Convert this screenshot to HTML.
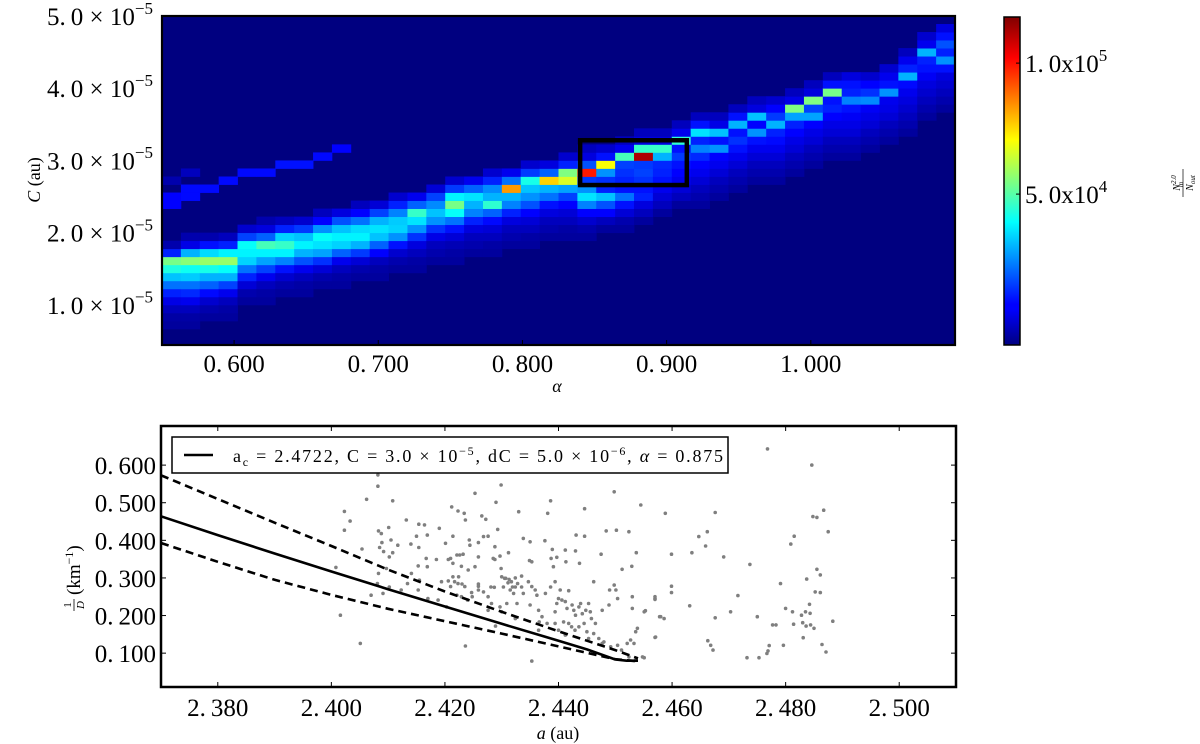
<!DOCTYPE html>
<html><head><meta charset="utf-8"><style>
html,body{margin:0;padding:0;background:#fff;}
svg{display:block;font-family:"Liberation Serif","DejaVu Serif",serif;}
</style></head><body>
<svg id="chart" width="1200" height="744" viewBox="0 0 1200 744" xmlns="http://www.w3.org/2000/svg">
<defs>
<linearGradient id="jetGrad" x1="0" y1="1" x2="0" y2="0">
<stop offset="0" stop-color="#000080"/><stop offset="0.11" stop-color="#0000ff"/><stop offset="0.125" stop-color="#0000ff"/><stop offset="0.375" stop-color="#00ffff"/><stop offset="0.625" stop-color="#ffff00"/><stop offset="0.875" stop-color="#ff0000"/><stop offset="1" stop-color="#800000"/>
</linearGradient>
</defs>
<g id="heat"></g>
<g id="cbar"></g>
<g id="scatter"></g>
</svg>
<script>
// ---------- heatmap data (values in units of 1e4) ----------
const alphaRange = [0.55, 1.10];
const cRange = [0.446, 5.0]; // units of 1e-5
const nCols = 42;
const nRows = 41;
const vmin = -0.76, vmax = 11.76;
const alphaTicks = [0.6, 0.7, 0.8, 0.9, 1.0];
const alphaTickLabels = ["0.\u2009600", "0.\u2009700", "0.\u2009800", "0.\u2009900", "1.\u2009000"];
const cTicks = [1, 2, 3, 4, 5];
const cTickLabels = ["1.\u20090", "2.\u20090", "3.\u20090", "4.\u20090", "5.\u20090"];
const cbarTicks = [5, 10];
const cbarTickLabels = [["5.\u20090x10", "4"], ["1.\u20090x10", "5"]];
const colStart = [2,2,3,3,5,5,6,6,7,7,8,8,9,9,10,10,11,11,12,12,13,13,13,14,14,15,16,17,17,18,19,20,20,21,22,23,23,24,25,26,28,29];
const colVals = [
[-0.4,-0.3,0,0.5,1.2,2.2,3.2,4.3,5.4,1.2,-0.2],
[-0.4,-0.3,0,0.6,1.3,2.2,3.3,4.1,5.6,3,0.5,-0.2],
[-0.4,-0.2,0.2,0.9,2,3,4.2,5.8,3.5,1,-0.2],
[-0.4,-0.3,0,0.6,1.6,3,4,5.8,3.8,1.2,0],
[-0.4,-0.2,0.3,1.2,2.2,3.4,3.8,4,1.6,0.2],
[-0.4,-0.3,0,0.6,1.6,2.8,3.8,4.8,2,0.4,-0.2],
[-0.4,-0.2,0.2,1,2.4,3.8,4.6,3.4,1.2,0],
[-0.4,-0.3,0,0.6,1.8,3,3.8,3.2,1.5,0.2],
[-0.4,-0.2,0.3,1.4,2.8,3.6,4,2.6,0.8,0],
[-0.4,-0.3,0,0.6,2,3.4,3.8,3.2,1.8,0.4],
[-0.4,-0.2,0.3,1.5,3,3.8,3.5,2.2,0.8,0],
[-0.4,-0.3,0,0.8,2,3.2,3.6,3,1.6,0.3],
[-0.4,-0.2,0.2,1,2.6,3.4,3.3,2.4,1.2,0.2],
[-0.4,-0.3,0,0.4,1.4,2.6,3.6,4.6,2,0.6],
[-0.4,-0.2,0,0.5,1.4,2.6,3.2,2.5,1.6,0.3],
[-0.4,-0.3,-0.1,0.3,1,2.2,4,5.4,3.8,1.5,0.2],
[-0.4,-0.2,0,0.4,1.2,2.4,3,3.6,2,0.6],
[-0.4,-0.3,0,0.3,0.9,2,4.5,3,2.5,1.2,0.2],
[-0.4,-0.2,0,0.4,1.2,2.4,3,8.3,2.2,0.6],
[-0.4,-0.3,0,0.3,0.8,1.8,2.6,3.2,4.2,1.5,0.2],
[-0.4,-0.2,0,0.4,1,2.2,3,7.6,2,0.4],
[-0.4,-0.3,0,0.3,0.8,1.6,2.8,6.6,5.5,1.2,0.2],
[-0.4,-0.2,0.2,0.8,2.4,3.6,2.6,1.5,9.9,1.8,0.4,0],
[-0.4,0,0.8,1.8,3.2,1.2,1.4,2.6,7,1,0.2],
[-0.4,-0.2,0.3,1,2.2,1,1.2,1.4,1.6,4.8,0.6,0],
[-0.4,0,0.4,1.2,1,1.4,1.6,1.5,11.2,4.6,0.4,0],
[-0.4,0,0.3,0.6,1,1.2,1.3,3,4.6,0.4,0],
[-0.4,0,0.3,0.6,0.8,1,1.5,1,4.5,0.6,0],
[-0.4,-0.2,0,0.3,0.6,0.8,1.3,2.4,1.2,3.6,1,0],
[-0.4,-0.2,0,0.3,0.6,0.8,2.6,1,3.2,0.5,0],
[-0.4,-0.2,0,0.3,0.6,1,1.4,1,3,1,0],
[-0.4,-0.2,0,0.3,0.6,1,2.6,0.8,3.2,0.4,0],
[-0.4,-0.2,0,0.3,0.6,0.9,1.2,3,1.5,0.8,0.2],
[-0.4,-0.2,0,0.3,0.5,0.8,1.2,2.8,5.5,0.5,0],
[-0.4,-0.2,0,0.3,0.5,0.8,2.8,1.6,5.5,0.4,0],
[-0.4,-0.2,0,0.3,0.5,0.8,1.2,1,5.4,1,0],
[-0.4,-0.2,0,0.3,0.5,0.7,1,2.4,1.2,1,0.4],
[-0.4,-0.2,0,0.3,0.5,0.7,2.5,1.4,0.8,0.2],
[-0.4,-0.2,0,0.3,0.5,0.6,2.6,1,0.6,0.2],
[-0.4,-0.2,0,0.2,0.4,0.6,0.9,3,1.2,0.6,0],
[-0.4,-0.2,0,0.2,0.4,0.7,1,1.2,3,0.6,0.2],
[-0.4,-0.2,0,0.2,0.4,1,2.6,1.2,1.8,1,0.4]
];
const minorCols = [0,0,0,1,1,1,2,3,4,5,6,7,8,9];
const minorRows = [17,18,20,18,19,21,19,20,21,21,22,22,23,24];
const minorVals = [0.8,0.8,-0.2,0.9,0.9,0.0,0.9,0.9,0.9,0.9,1.0,1.0,0.9,0.8];
const boxAlpha = [0.840, 0.914];
const boxC = [2.66, 3.28];

// ---------- scatter data ----------
const aRange = [2.37, 2.51];
const invDRange = [0.01, 0.704];
const aTicks = [2.38, 2.40, 2.42, 2.44, 2.46, 2.48, 2.50];
const aTickLabels = ["2.\u2009380","2.\u2009400","2.\u2009420","2.\u2009440","2.\u2009460","2.\u2009480","2.\u2009500"];
const dTicks = [0.1,0.2,0.3,0.4,0.5,0.6];
const dTickLabels = ["0.\u2009100","0.\u2009200","0.\u2009300","0.\u2009400","0.\u2009500","0.\u2009600"];
const solidA = [2.37,2.38,2.39,2.40,2.41,2.42,2.43,2.44,2.445,2.450,2.452,2.454];
const solidV = [0.464,0.414,0.365,0.317,0.270,0.224,0.178,0.133,0.110,0.083,0.080,0.080];
const upperA = [2.37,2.38,2.39,2.40,2.41,2.42,2.43,2.44,2.45,2.454];
const upperV = [0.573,0.510,0.447,0.385,0.322,0.264,0.210,0.158,0.108,0.086];
const lowerA = [2.37,2.38,2.39,2.40,2.41,2.42,2.43,2.44,2.45,2.454];
const lowerV = [0.393,0.343,0.295,0.255,0.218,0.185,0.152,0.118,0.084,0.078];
const ptA = [2.4082,2.4082,2.4062,2.4108,2.4023,2.4033,2.4023,2.4054,2.4008,2.4016,2.4051,2.4083,2.4088,2.4089,2.4085,2.4092,2.4101,2.4105,2.4117,2.4108,2.4102,2.4097,2.4083,2.4081,2.4070,2.4132,2.4154,2.4164,2.4150,2.4169,2.4140,2.4154,2.4167,2.4153,2.4169,2.4185,2.4190,2.4201,2.4212,2.4223,2.4234,2.4236,2.4214,2.4210,2.4206,2.4221,2.4226,2.4232,2.4214,2.4229,2.4243,2.4244,2.4253,2.4265,2.4272,2.4268,2.4259,2.4276,2.4293,2.4288,2.4285,2.4288,2.4297,2.4299,2.4290,2.4330,2.4299,2.4312,2.4313,2.4305,2.4324,2.4335,2.4338,2.4350,2.4349,2.4353,2.4376,2.4381,2.4386,2.4389,2.4397,2.4391,2.4387,2.4412,2.4413,2.4430,2.4437,2.4431,2.4446,2.4446,2.4475,2.4484,2.4502,2.4524,2.4545,2.4498,2.4512,2.4529,2.4537,
2.4214,2.4217,2.4223,2.4224,2.4230,2.4235,2.4206,2.4210,2.4221,2.4229,2.4240,2.4247,2.4259,2.4259,2.4268,2.4276,2.4281,2.4287,2.4300,2.4307,2.4311,2.4315,2.4319,2.4321,2.4324,2.4317,2.4328,2.4335,2.4338,2.4347,2.4353,2.4359,2.4362,2.4350,2.4327,2.4309,2.4297,2.4300,2.4282,2.4276,2.4259,2.4248,2.4194,2.4188,2.4170,2.4155,2.4141,2.4134,2.4123,2.4102,2.4091,2.4203,2.4153,
2.4365,2.4371,2.4380,2.4394,2.4397,2.4400,2.4403,2.4406,2.4412,2.4415,2.4424,2.4427,2.4430,2.4436,2.4439,2.4442,2.4448,2.4453,2.4456,2.4462,2.4477,2.4489,2.4498,2.4504,2.4501,2.4490,2.4394,2.4409,2.4418,2.4423,2.4429,2.4436,2.4445,2.4450,2.4453,2.4462,2.4471,2.4477,2.4480,2.4492,2.4504,2.4511,2.4521,2.4527,2.4533,2.4536,2.4539,2.4530,2.4530,2.4551,2.4570,2.4571,2.4578,2.4524,2.4536,2.4548,2.4353,2.4366,2.4365,2.4400,2.4412,2.4458,2.4465,2.4394,2.4418,2.4377,2.4386,2.4236,2.4289,2.4324,2.4303,2.4259,2.4253,2.4241,
2.4588,2.4676,2.4662,2.4647,2.4659,2.4599,2.4635,2.4691,2.4737,2.4599,2.4599,2.4570,2.4570,2.4553,2.4580,2.4586,2.4631,2.4676,2.4703,2.4716,2.4570,2.4551,2.4663,2.4668,2.4672,2.4732,2.4753,2.4767,2.4769,2.4771,2.4796,2.4750,2.4777,2.4783,2.4791,2.4800,2.4812,2.4814,2.4828,2.4830,2.4836,2.4844,2.4850,2.4831,2.4835,2.4843,2.4842,2.4837,2.4855,2.4861,2.4852,2.4861,2.4809,2.4815,2.4848,2.4855,2.4867,2.4875,2.4864,2.4871,2.4883,2.4768,2.4846];
const ptV = [.574,.544,.509,.505,.477,.451,.427,.377,.328,.201,.126,.425,.418,.394,.381,.370,.434,.401,.387,.367,.356,.325,.312,.285,.254,.454,.443,.441,.411,.414,.390,.381,.352,.332,.330,.349,.432,.392,.489,.478,.472,.454,.411,.352,.349,.361,.361,.363,.339,.331,.401,.387,.525,.465,.456,.410,.394,.411,.429,.383,.352,.349,.358,.547,.501,.476,.325,.367,.296,.299,.300,.305,.405,.396,.346,.343,.399,.472,.505,.376,.355,.330,.352,.374,.343,.372,.339,.414,.411,.484,.363,.425,.427,.423,.494,.529,.323,.331,.367,
.303,.290,.285,.303,.284,.277,.292,.277,.254,.250,.241,.261,.284,.278,.263,.250,.276,.275,.303,.299,.287,.268,.276,.259,.276,.290,.285,.276,.259,.290,.277,.268,.254,.228,.232,.232,.223,.210,.232,.214,.268,.250,.290,.241,.245,.294,.312,.285,.268,.276,.259,.223,.268,
.214,.197,.179,.210,.232,.245,.268,.241,.237,.219,.228,.214,.201,.223,.232,.205,.214,.232,.210,.290,.214,.228,.281,.245,.268,.268,.179,.183,.179,.170,.161,.170,.179,.157,.139,.152,.139,.126,.130,.117,.121,.108,.126,.135,.126,.157,.166,.219,.250,.210,.245,.143,.197,.090,.081,.090,.079,.183,.161,.161,.148,.192,.179,.290,.266,.259,.276,.119,.172,.192,.276,.356,.330,.321,
.472,.474,.423,.410,.385,.363,.367,.356,.336,.278,.261,.250,.243,.213,.197,.192,.226,.194,.210,.253,.142,.088,.133,.121,.108,.088,.088,.099,.106,.120,.121,.197,.175,.175,.285,.219,.210,.177,.201,.181,.172,.175,.166,.141,.210,.206,.230,.297,.323,.308,.263,.261,.390,.411,.463,.461,.480,.423,.123,.103,.185,.643,.600];

// ---------- helpers ----------
const NS = "http://www.w3.org/2000/svg";
function mk(tag, attrs, parent) {
  const e = document.createElementNS(NS, tag);
  for (const k in attrs) e.setAttribute(k, attrs[k]);
  if (parent) parent.appendChild(e);
  return e;
}
function jet(v) {
  let t = (v - vmin) / (vmax - vmin);
  t = Math.max(0, Math.min(1, t));
  const c = x => Math.round(255 * Math.max(0, Math.min(1, 1.5 - Math.abs(4 * t - x))));
  return `rgb(${c(3)},${c(2)},${c(1)})`;
}
function supText(parent, x, y, base, exp, size, anchor, name) {
  const t = mk("text", {x: x, y: y, "font-size": size, "text-anchor": anchor || "start"}, parent);
  
  
  t.appendChild(document.createTextNode(base));
  const s = mk("tspan", {dy: -size * 0.45, "font-size": size * 0.68}, t);
  s.textContent = exp;
  return t;
}

// ---------- heatmap ----------
const H = {x0: 162, x1: 955, y0: 16, y1: 345};
const hx = a => H.x0 + (a - alphaRange[0]) / (alphaRange[1] - alphaRange[0]) * (H.x1 - H.x0);
const hy = c => H.y1 - (c - cRange[0]) / (cRange[1] - cRange[0]) * (H.y1 - H.y0);
const heat = document.getElementById("heat");
const bg = mk("rect", {x: H.x0, y: H.y0, width: H.x1 - H.x0, height: H.y1 - H.y0, fill: jet(-0.76)}, heat);


const aBin = (alphaRange[1] - alphaRange[0]) / nCols;
const cBin = (cRange[1] - cRange[0]) / nRows;
function cell(ci, ri, v) {
  const xa = hx(alphaRange[0] + ci * aBin), xb = hx(alphaRange[0] + (ci + 1) * aBin);
  const ya = hy(cRange[0] + (ri + 1) * cBin), yb = hy(cRange[0] + ri * cBin);
  const r = mk("rect", {x: xa.toFixed(2), y: ya.toFixed(2), width: (xb - xa + 0.4).toFixed(2), height: (yb - ya + 0.4).toFixed(2), fill: jet(v)}, heat);
  
  
}
colVals.forEach((vals, ci) => vals.forEach((v, k) => cell(ci, colStart[ci] + k, v)));
minorVals.forEach((v, i) => cell(minorCols[i], minorRows[i], v));
const frame = mk("rect", {x: H.x0, y: H.y0, width: H.x1 - H.x0, height: H.y1 - H.y0, fill: "none", stroke: "#000", "stroke-width": 2.2}, heat);


const box = mk("rect", {x: hx(boxAlpha[0]), y: hy(boxC[1]), width: hx(boxAlpha[1]) - hx(boxAlpha[0]), height: hy(boxC[0]) - hy(boxC[1]), fill: "none", stroke: "#000", "stroke-width": 4.5}, heat);


alphaTicks.forEach((a, i) => {
  const x = hx(a);
  const tk = mk("line", {x1: x, y1: H.y1, x2: x, y2: H.y1 - 5, stroke: "#000", "stroke-width": 1}, heat);
  
  
  const t = mk("text", {x: x, y: 372, "font-size": 25, "text-anchor": "middle"}, heat);
  
  
  t.textContent = alphaTickLabels[i];
});
cTicks.forEach((c, i) => {
  const y = hy(c);
  supText(heat, 153, y + 9, cTickLabels[i] + " × 10", "−5", 25, "end", "y-tick-label");
});
const xl = mk("text", {x: 557, y: 392, "font-size": 18, "font-style": "italic", "text-anchor": "middle"}, heat);


xl.textContent = "α";
const yl = mk("text", {x: 0, y: 0, "font-size": 18, "text-anchor": "middle", transform: "translate(40,180) rotate(-90)"}, heat);


yl.innerHTML = '<tspan font-style="italic">C</tspan> (au)';

// ---------- colorbar ----------
const cb = document.getElementById("cbar");
const CB = {x: 1004, w: 16, y0: 17, y1: 345};
const cbr = mk("rect", {x: CB.x, y: CB.y0, width: CB.w, height: CB.y1 - CB.y0, fill: "url(#jetGrad)", stroke: "#000", "stroke-width": 1.5}, cb);


cbarTicks.forEach((v, i) => {
  const y = CB.y1 - (v - vmin) / (vmax - vmin) * (CB.y1 - CB.y0);
  const tk = mk("line", {x1: CB.x + CB.w - 4, y1: y, x2: CB.x + CB.w, y2: y, stroke: "#000"}, cb);
  
  
  supText(cb, 1025, y + 9, cbarTickLabels[i][0], cbarTickLabels[i][1], 25, "start", "colorbar-tick-label");
});
const cbl = mk("g", {transform: "translate(1183,183) rotate(-90)"}, cb);


const n1 = mk("text", {x: 0, y: -3, "font-size": 10, "font-style": "italic", "text-anchor": "middle"}, cbl);
n1.innerHTML = 'N<tspan font-size="7" dy="-4">2.0</tspan><tspan font-size="7" dx="-12" dy="7">in</tspan>';
mk("line", {x1: -14, y1: 0, x2: 14, y2: 0, stroke: "#000", "stroke-width": 0.7}, cbl);
const n2 = mk("text", {x: 0, y: 10, "font-size": 10, "font-style": "italic", "text-anchor": "middle"}, cbl);
n2.innerHTML = 'N<tspan font-size="7" dy="2">out</tspan>';

// ---------- scatter ----------
const S = {x0: 161, x1: 956, y0: 426, y1: 687};
const sx = a => S.x0 + (a - aRange[0]) / (aRange[1] - aRange[0]) * (S.x1 - S.x0);
const sy = v => S.y1 - (v - invDRange[0]) / (invDRange[1] - invDRange[0]) * (S.y1 - S.y0);
const sc = document.getElementById("scatter");
ptA.forEach((a, i) => {
  const c = mk("circle", {cx: sx(a).toFixed(1), cy: sy(ptV[i]).toFixed(1), r: 1.8, fill: "#7f7f7f"}, sc);
  
  
});
function line(A, V, dash, name) {
  const d = A.map((a, i) => (i ? "L" : "M") + sx(a).toFixed(1) + " " + sy(V[i]).toFixed(1)).join(" ");
  const p = mk("path", {d: d, fill: "none", stroke: "#000", "stroke-width": 2.6, "stroke-linejoin": "round"}, sc);
  if (dash) p.setAttribute("stroke-dasharray", "8 5");
  
  
}
line(solidA, solidV, false, 'model-curve');
line(upperA, upperV, true, 'upper-bound-curve');
line(lowerA, lowerV, true, 'lower-bound-curve');
const sf = mk("rect", {x: S.x0, y: S.y0, width: S.x1 - S.x0, height: S.y1 - S.y0, fill: "none", stroke: "#000", "stroke-width": 2.5}, sc);


aTicks.forEach((a, i) => {
  const x = sx(a);
  const t1 = mk("line", {x1: x, y1: S.y1, x2: x, y2: S.y1 - 5, stroke: "#000"}, sc);
  
  
  const t2 = mk("line", {x1: x, y1: S.y0, x2: x, y2: S.y0 + 5, stroke: "#000"}, sc);
  
  
  const t = mk("text", {x: x, y: 716, "font-size": 25, "text-anchor": "middle"}, sc);
  
  
  t.textContent = aTickLabels[i];
});
dTicks.forEach((v, i) => {
  const y = sy(v);
  const t1 = mk("line", {x1: S.x0, y1: y, x2: S.x0 + 5, y2: y, stroke: "#000"}, sc);
  
  
  const t2 = mk("line", {x1: S.x1, y1: y, x2: S.x1 - 5, y2: y, stroke: "#000"}, sc);
  
  
  const t = mk("text", {x: 156, y: y + 9, "font-size": 25, "text-anchor": "end"}, sc);
  
  
  t.textContent = dTickLabels[i];
});
const ax = mk("text", {x: 558, y: 739, "font-size": 18, "text-anchor": "middle"}, sc);


ax.innerHTML = '<tspan font-style="italic">a</tspan> (au)';
const ay = mk("g", {transform: "translate(74,557) rotate(-90)"}, sc);


const f1 = mk("text", {x: -48, y: -3, "font-size": 11, "text-anchor": "middle"}, ay); f1.textContent = "1";
mk("line", {x1: -54, y1: 0, x2: -42, y2: 0, stroke: "#000", "stroke-width": 0.8}, ay);
const f2 = mk("text", {x: -48, y: 10, "font-size": 11, "font-style": "italic", "text-anchor": "middle"}, ay); f2.textContent = "D";
const f3 = mk("text", {x: -38, y: 6, "font-size": 19}, ay);
f3.innerHTML = '(km<tspan font-size="12" dy="-7">−1</tspan><tspan dy="7">)</tspan>';
// legend
const lg = mk("g", {}, sc);


mk("rect", {x: 172, y: 437, width: 556, height: 36, fill: "#fff", stroke: "#000", "stroke-width": 1.5}, lg);
const ll = mk("line", {x1: 184, y1: 455, x2: 213, y2: 455, stroke: "#000", "stroke-width": 2.6}, lg);


const lt = mk("text", {x: 233, y: 462, "font-size": 18, textLength: 490, lengthAdjust: "spacing"}, lg);


lt.innerHTML = 'a<tspan font-size="12" dy="4">c</tspan><tspan dy="-4"> = 2.4722,  C = 3.0 × 10</tspan><tspan font-size="12" dy="-7">−5</tspan><tspan dy="7">,  dC = 5.0 × 10</tspan><tspan font-size="12" dy="-7">−6</tspan><tspan dy="7">,  </tspan><tspan font-style="italic">α</tspan><tspan> = 0.875</tspan>';
</script>
</body></html>
